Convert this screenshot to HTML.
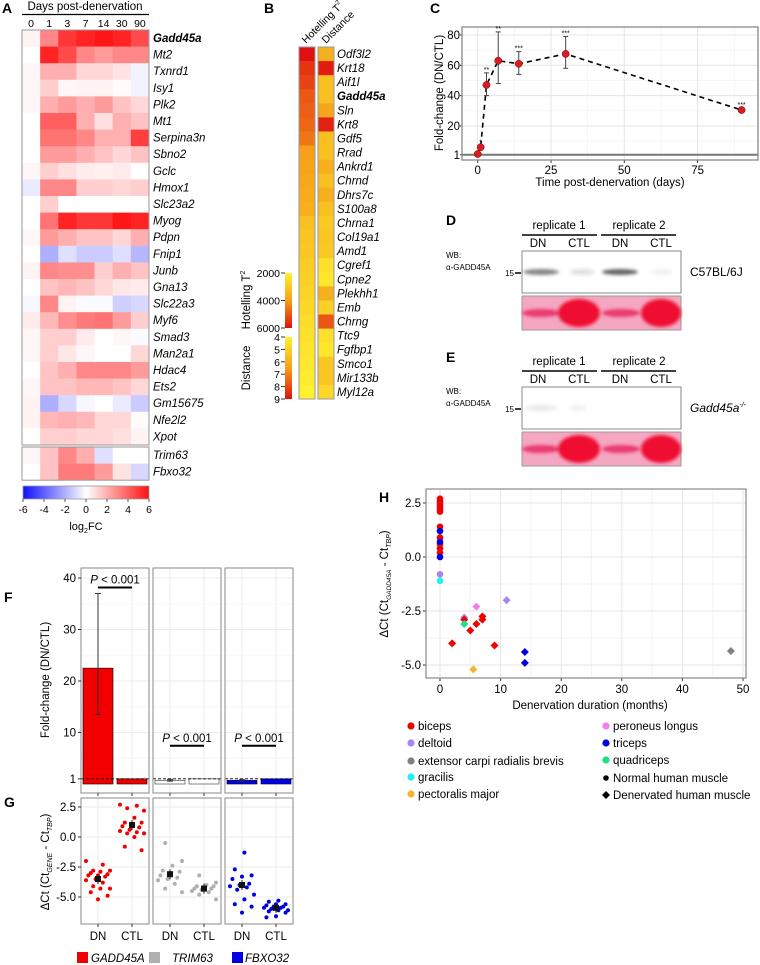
<!DOCTYPE html>
<html><head><meta charset="utf-8"><style>
html,body{margin:0;padding:0;background:#fff;}
svg{display:block;font-family:"Liberation Sans",Arial,sans-serif;}
</style></head><body>
<svg id="fig" width="760" height="965" viewBox="0 0 760 965" xmlns="http://www.w3.org/2000/svg">
<defs>
<linearGradient id="gradA" x1="0" x2="1" y1="0" y2="0"><stop offset="0" stop-color="#1010ff"/><stop offset="0.5" stop-color="#ffffff"/><stop offset="1" stop-color="#ff1010"/></linearGradient>
<linearGradient id="gradB" x1="0" x2="0" y1="0" y2="1"><stop offset="0" stop-color="#fff030"/><stop offset="0.5" stop-color="#f5a018"/><stop offset="1" stop-color="#e01010"/></linearGradient>
<filter id="blur" x="-20%" y="-50%" width="140%" height="200%"><feGaussianBlur stdDeviation="1.5"/></filter>
</defs>
<g id="root"></g>
</svg>
<script>
// ---------- Panel A data ----------
const aDays = ["0","1","3","7","14","30","90"];
const aGenes = ["Gadd45a","Mt2","Txnrd1","Isy1","Plk2","Mt1","Serpina3n","Sbno2","Gclc","Hmox1","Slc23a2","Myog","Pdpn","Fnip1","Junb","Gna13","Slc22a3","Myf6","Smad3","Man2a1","Hdac4","Ets2","Gm15675","Nfe2l2","Xpot"];
const aValues = [
[0.3,3,5,5.5,5.8,5.5,4.5],[0,5.5,4.5,3,2.5,3,3],[0.2,2,2,1,1,0.7,-0.3],[0.2,1.2,0.2,0.3,0.3,0.1,-0.3],
[0.2,2,2.5,2,2.5,1.5,1],[0,4,4,2,0.8,2,1.5],[0,3.5,3.5,3,2,2,4.8],[0,2.5,2.5,2,1.5,1,1.5],
[0.2,1.2,0.8,0.5,0.4,0.5,0],[-0.5,3,3,1.2,1.2,1,1.2],[0,1.2,0,0,0,0,0],[0,3.5,5.5,5,5,5.8,5.5],
[0.2,2.5,2,1.5,1.5,1,2],[0,-2,-0.8,-1.3,-1.3,-0.8,-1.8],[0.3,3,2.8,2.8,1.2,2,1.5],[0,1.5,1.8,1.5,1,0.6,0.5],
[-0.2,3,0.3,-0.1,-0.1,-1.2,-1],[0.5,1.8,2.8,3.3,3.5,2.5,1.2],[0.2,1.2,1.2,0.5,0,0.2,-0.1],[0.2,1.2,0.6,0.2,0,0,1],
[0,1.5,2,3,3,3,2.5],[0.2,1.5,1.5,1.8,1.8,1.5,1],[0.3,-2,-1,-0.2,0,-0.5,-1.3],[0.3,1.8,2,1.8,1,1,0.1],[0,1.2,1.2,1,1,0.8,0.3]];
const aGenes2 = ["Trim63","Fbxo32"];
const aValues2 = [[0.2,1.5,3,2,-0.8,0,0],[0,1.5,3.3,3.3,2.5,0.7,-1]];
const aTicks = [-6,-4,-2,0,2,4,6];
// ---------- Panel B data ----------
const bGenes = ["Odf3l2","Krt18","Aif1l","Gadd45a","Sln","Krt8","Gdf5","Rrad","Ankrd1","Chrnd","Dhrs7c","S100a8","Chrna1","Col19a1","Amd1","Cgref1","Cpne2","Plekhh1","Emb","Chrng","Ttc9","Fgfbp1","Smco1","Mir133b","Myl12a"];
const bHotelling = [6000,5500,5300,5000,4900,4800,4600,4000,3900,3800,3700,3600,3200,3100,3000,2900,2800,2700,2600,2500,2400,2300,2200,2100,2000];
const bDistance = [6,8.8,5.5,5.5,6.3,8.7,5.5,5.5,6,5.5,6,5.5,5.2,5.3,5.2,4.5,4.3,6,5,7.8,4.5,4.3,5.3,5.3,4.8];
const bHotTicks = [2000,4000,6000];
const bDistTicks = [4,5,6,7,8,9];
// ---------- Panel C data ----------
const cDays = [0,1,3,7,14,30,90];
const cFold = [1.5,6,47,63,61,67.5,30.5];
const cErrHi = [2,7,55,82,69,79,32];
const cErrLo = [1,5,40,48,54,58,29];
const cStars = ["","*","**","**","***","***","***"];
const cYTicks = [1,20,40,60,80];
const cXTicks = [0,25,50,75];
// ---------- Panel F data ----------
const fGenes = ["GADD45A","TRIM63","FBXO32"];
const fDN = [22.5,0.7,0.7];
const fCTL = [1,1,1];
const fDNErrHi = [37,0.9,0.85];
const fDNErrLo = [13.5,0.55,0.6];
const fYTicks = [1,10,20,30,40];
// ---------- Panel G data ----------
const gDN = [
[-2.0,-2.3,-2.8,-2.8,-2.9,-3.0,-3.1,-3.2,-3.2,-3.3,-3.5,-3.6,-3.8,-4.1,-4.3,-4.3,-4.6,-4.9,-5.2],
[-0.5,-2.0,-2.4,-2.8,-2.9,-3.0,-3.2,-3.4,-3.5,-3.6,-3.9,-4.3,-4.6],
[-1.3,-2.7,-3.2,-3.3,-3.5,-3.9,-4.0,-4.1,-4.2,-4.4,-4.8,-5.2,-5.6,-5.8,-6.3]];
const gCTL = [
[2.7,2.6,2.4,2.2,1.6,1.2,1.2,1.0,0.9,0.8,0.6,0.5,0.4,0.3,0.3,0.0,-0.8,-1.1],
[-3.2,-3.8,-4.0,-4.1,-4.1,-4.2,-4.3,-4.3,-4.4,-4.5,-4.6,-4.8,-5.2],
[-5.3,-5.4,-5.6,-5.6,-5.7,-5.8,-5.8,-5.9,-5.9,-6.0,-6.1,-6.1,-6.2,-6.3,-6.6,-6.7]];
const gMeanDN = [-3.5,-3.1,-4.0];
const gMeanCTL = [1.0,-4.3,-5.9];
const gYTicks = [2.5,0,-2.5,-5];
// ---------- Panel H data ----------
const hMonths = [0,0,0,0,0,0,0,0,0,0,0,0,0,0,0,0,0, 11,6,4,4,7,7,4,6,5,2,9,14,14,5.5,48];
const hDeltaCt = [2.7,2.6,2.5,2.4,2.3,2.2,2.1,1.4,0.9,0.6,0.4,0.2,1.2,0.7,0.0,-0.8,-1.1, -2.0,-2.3,-2.8,-2.9,-2.75,-2.9,-3.1,-3.1,-3.4,-4.0,-4.1,-4.4,-4.9,-5.2,-4.35];
const hMuscle = ["biceps","biceps","biceps","biceps","biceps","biceps","biceps","biceps","biceps","biceps","biceps","biceps","triceps","triceps","triceps","deltoid","gracilis",
"deltoid","peroneus longus","deltoid","biceps","biceps","biceps","quadriceps","biceps","biceps","biceps","biceps","triceps","triceps","pectoralis major","extensor carpi radialis brevis"];
const hDenervated = [0,0,0,0,0,0,0,0,0,0,0,0,0,0,0,0,0,1,1,1,1,1,1,1,1,1,1,1,1,1,1,1];
const hYTicks = [2.5,0,-2.5,-5];
const hXTicks = [0,10,20,30,40,50];

const NS="http://www.w3.org/2000/svg";
const root=document.getElementById('root');
function mk(tag,attrs,parent,text){const e=document.createElementNS(NS,tag);for(const k in attrs)e.setAttribute(k,attrs[k]);if(text!==undefined)e.textContent=text;(parent||root).appendChild(e);return e;}
function grp(name){const g=mk('g',{});


return g;}

// Panel letters
[["A",2,13],["B",264,13],["C",430,13],["D",446,225],["E",446,362],["F",4,602],["G",4,807],["H",379,502]].forEach(l=>{
const t=mk('text',{x:l[1],y:l[2],'font-size':14,'font-weight':'bold'},root,l[0]);


});

// ===== Panel A =====
(function(){
const g=grp('panel-a-heatmap');
const x0=22,cw=18.14,y0=30,rh=16.6;
const col=v=>{const t=Math.max(-1,Math.min(1,v/6));if(t>=0){const c=Math.round(255*(1-t*0.94));return `rgb(255,${c},${c})`;}const c=Math.round(255*(1+t*0.94));return `rgb(${c},${c},255)`;};
const title=mk('text',{x:85,y:10,'font-size':11.5,'text-anchor':'middle'},g,'Days post-denervation');


mk('line',{x1:22,x2:149,y1:14.5,y2:14.5,stroke:'#000','stroke-width':1.3},g);
aDays.forEach((d,j)=>{const t=mk('text',{x:x0+cw*(j+0.5),y:27,'font-size':10.5,'text-anchor':'middle'},g,d);

});
aValues.forEach((row,i)=>{row.forEach((v,j)=>{const r=mk('rect',{x:x0+cw*j,y:y0+rh*i,width:cw+0.3,height:rh+0.3,fill:col(v)},g);

});
const t=mk('text',{x:153,y:y0+rh*i+12,'font-size':11.5,'font-style':'italic','font-weight':i===0?'bold':'normal'},g,aGenes[i]);

});
mk('rect',{x:x0,y:y0,width:cw*7,height:rh*aGenes.length,fill:'none',stroke:'#999','stroke-width':1},g);
const y2=447;
aValues2.forEach((row,i)=>{row.forEach((v,j)=>{const r=mk('rect',{x:x0+cw*j,y:y2+rh*i,width:cw+0.3,height:rh+0.3,fill:col(v)},g);

});
const t=mk('text',{x:153,y:y2+rh*i+12,'font-size':11.5,'font-style':'italic'},g,aGenes2[i]);

});
mk('rect',{x:x0,y:y2,width:cw*7,height:rh*2,fill:'none',stroke:'#999','stroke-width':1},g);
const cb=mk('rect',{x:23,y:486,width:126,height:13,fill:'url(#gradA)',stroke:'#999','stroke-width':0.8},g);


aTicks.forEach(v=>{const x=23+(v+6)/12*126;mk('line',{x1:x,x2:x,y1:499,y2:502,stroke:'#555'},g);
const t=mk('text',{x:x,y:513,'font-size':10.5,'text-anchor':'middle'},g,String(v));

});
const lt=mk('text',{x:86,y:530,'font-size':11,'text-anchor':'middle'},g);


mk('tspan',{},lt,'log');mk('tspan',{'font-size':7,dy:3},lt,'2');mk('tspan',{dy:-3},lt,'FC');
})();

// ===== Panel B =====
(function(){
const g=grp('panel-b-heatmap');
const y0=47,rh=14.08,xh=299,xd=318,w=16;
const stops=[[255,240,48],[245,160,24],[224,16,16]];
const col=t=>{t=Math.max(0,Math.min(1,t));let a,b,u;if(t<0.5){a=stops[0];b=stops[1];u=t/0.5;}else{a=stops[1];b=stops[2];u=(t-0.5)/0.5;}return `rgb(${a.map((c,k)=>Math.round(c+(b[k]-c)*u)).join(',')})`;};
bGenes.forEach((gn,i)=>{
const r1=mk('rect',{x:xh,y:y0+rh*i,width:w,height:rh+0.3,fill:col((bHotelling[i]-2000)/4000)},g);


const r2=mk('rect',{x:xd,y:y0+rh*i,width:w,height:rh+0.3,fill:col((bDistance[i]-4)/5)},g);


const t=mk('text',{x:337,y:y0+rh*i+11,'font-size':11.5,'font-style':'italic','font-weight':gn==='Gadd45a'?'bold':'normal'},g,gn);


});
mk('rect',{x:xh,y:y0,width:w,height:rh*25,fill:'none',stroke:'#999'},g);
mk('rect',{x:xd,y:y0,width:w,height:rh*25,fill:'none',stroke:'#999'},g);
const h1=mk('text',{transform:'translate(306,44) rotate(-45)','font-size':10.5},g);


mk('tspan',{},h1,'Hotelling T');mk('tspan',{'font-size':6.5,dy:-5},h1,'2');
const h2=mk('text',{transform:'translate(326,44) rotate(-45)','font-size':10.5},g,'Distance');


// colorbars
const c1=mk('rect',{x:285,y:273,width:7,height:55,fill:'url(#gradB)'},g);


bHotTicks.forEach(v=>{const y=273+(v-2000)/4000*55;mk('line',{x1:281,x2:285,y1:y,y2:y,stroke:'#333'},g);
const t=mk('text',{x:280,y:y+4,'font-size':10.5,'text-anchor':'end'},g,String(v));

});
const c2=mk('rect',{x:285,y:337,width:7,height:62,fill:'url(#gradB)'},g);


bDistTicks.forEach(v=>{const y=337+(v-4)/5*62;mk('line',{x1:281,x2:285,y1:y,y2:y,stroke:'#333'},g);
const t=mk('text',{x:280,y:y+4,'font-size':10.5,'text-anchor':'end'},g,String(v));

});
const l1=mk('text',{transform:'translate(250,300) rotate(-90)','font-size':11.5,'text-anchor':'middle'},g);


mk('tspan',{},l1,'Hotelling T');mk('tspan',{'font-size':7,dy:-5},l1,'2');
const l2=mk('text',{transform:'translate(250,368) rotate(-90)','font-size':11.5,'text-anchor':'middle'},g,'Distance');


})();

// ===== Panel C =====
(function(){
const g=grp('panel-c-line-chart');
const L=462,R=758,T=27,B=160;
const xs=d=>477.7+d*2.932, ys=v=>156.3-v*1.517;
mk('rect',{x:L,y:T,width:R-L,height:B-T,fill:'#fff'},g);
[12.5,37.5,62.5,87.5].forEach(d=>mk('line',{x1:xs(d),x2:xs(d),y1:T,y2:B,stroke:'#f0f0f0','stroke-width':0.6},g));
[10,30,50,70].forEach(v=>mk('line',{x1:L,x2:R,y1:ys(v),y2:ys(v),stroke:'#f0f0f0','stroke-width':0.6},g));
cXTicks.forEach(d=>{mk('line',{x1:xs(d),x2:xs(d),y1:T,y2:B,stroke:'#e4e4e4','stroke-width':1},g);
mk('line',{x1:xs(d),x2:xs(d),y1:B,y2:B+3,stroke:'#333'},g);
const t=mk('text',{x:xs(d),y:B+14,'font-size':11.5,'text-anchor':'middle'},g,String(d));

});
cYTicks.forEach(v=>{if(v>1)mk('line',{x1:L,x2:R,y1:ys(v),y2:ys(v),stroke:'#e4e4e4'},g);
mk('line',{x1:L-2,x2:L,y1:ys(v),y2:ys(v),stroke:'#333'},g);
const t=mk('text',{x:L-2,y:ys(v)+4,'font-size':11.5,'text-anchor':'end'},g,String(v));

});
const base=mk('line',{x1:L,x2:R,y1:ys(1),y2:ys(1),stroke:'#777','stroke-width':2},g);


mk('rect',{x:L,y:T,width:R-L,height:B-T,fill:'none',stroke:'#888','stroke-width':1.3},g);
const pts=cDays.map((d,i)=>xs(d)+','+ys(cFold[i])).join(' ');
const pl=mk('polyline',{points:pts,fill:'none',stroke:'#000','stroke-width':1.6,'stroke-dasharray':'5,4'},g);


cDays.forEach((d,i)=>{const x=xs(d);
if(i>=2){mk('line',{x1:x,x2:x,y1:ys(cErrHi[i]),y2:ys(cErrLo[i]),stroke:'#444','stroke-width':1},g);
mk('line',{x1:x-2.5,x2:x+2.5,y1:ys(cErrHi[i]),y2:ys(cErrHi[i]),stroke:'#444'},g);
mk('line',{x1:x-2.5,x2:x+2.5,y1:ys(cErrLo[i]),y2:ys(cErrLo[i]),stroke:'#444'},g);}
const c=mk('circle',{cx:x,cy:ys(cFold[i]),r:3.6,fill:'#d81c24',stroke:'#8a0000','stroke-width':0.5},g);


if(cStars[i]){const t=mk('text',{x:x,y:ys(Math.max(cErrHi[i],cFold[i]))-1,'font-size':7,'text-anchor':'middle'},g,cStars[i]);

}
});
const xt=mk('text',{x:610,y:186,'font-size':11.5,'text-anchor':'middle'},g,'Time post-denervation (days)');


const yt=mk('text',{transform:'translate(443,93) rotate(-90)','font-size':11.5,'text-anchor':'middle'},g,'Fold-change (DN/CTL)');


})();

// ===== Panels D & E (western blots) =====
function blot(name,top,label,italic,bands){
const g=grp(name);
[["replicate 1",559,522,597],["replicate 2",639,601,676]].forEach(r=>{
const t=mk('text',{x:r[1],y:top,'font-size':11.5,'text-anchor':'middle'},g,r[0]);


mk('line',{x1:r[2],x2:r[3],y1:top+6,y2:top+6,stroke:'#000','stroke-width':1.5},g);});
[["DN",538],["CTL",579],["DN",620],["CTL",661]].forEach(l=>{const t=mk('text',{x:l[1],y:top+18,'font-size':11.5,'text-anchor':'middle'},g,l[0]);

});
const bt=top+22;
const box=mk('rect',{x:522,y:bt,width:159,height:42,fill:'#fff',stroke:'#888'},g);


bands.forEach(b=>{mk('ellipse',{cx:b[0],cy:bt+21,rx:b[1],ry:3,fill:'#333','fill-opacity':b[2],filter:'url(#blur)'},g);});
mk('text',{x:446,y:bt+7,'font-size':8},g,'WB:');
mk('text',{x:446,y:bt+19,'font-size':8},g,'α-GADD45A');
mk('text',{x:505,y:bt+25,'font-size':8},g,'15');
mk('line',{x1:515,x2:521,y1:bt+22,y2:bt+22,stroke:'#000','stroke-width':1.5},g);
const pt=bt+45;
const p=mk('rect',{x:522,y:pt,width:159,height:34,fill:'#f5a6c0',stroke:'#999'},g);


[[541,19,4],[621,19,4]].forEach(b=>mk('ellipse',{cx:b[0],cy:pt+17,rx:b[1],ry:b[2],fill:'#ea3a70',filter:'url(#blur)'},g));
[[579,21],[661,20]].forEach(b=>mk('ellipse',{cx:b[0],cy:pt+17,rx:b[1],ry:14,fill:'#f01030',filter:'url(#blur)'},g));
const lt=mk('text',{x:690,y:bt+25,'font-size':12,'font-style':italic?'italic':'normal'},g,label);


if(italic){mk('tspan',{'font-size':7,dy:-5},lt,'-/-');}
}
blot('panel-d-western-blot',229,'C57BL/6J',false,[[541,18,0.6],[582,12,0.15],[620,18,0.75],[661,10,0.08]]);
blot('panel-e-western-blot',365,'Gadd45a',true,[[541,16,0.1],[578,8,0.06]]);

// ===== Panel F =====
(function(){
const g=grp('panel-f-bar-chart');
const boxes=[[81,149],[153,221],[225,293]];
const T=568,B=793;
const ys=v=>784-(v)*5.15;
const colors=["#f20000","#ffffff","#0000f0"];
boxes.forEach((bx,k)=>{
const [L,R]=bx;const xdn=L+17,xct=L+51;
mk('rect',{x:L,y:T,width:R-L,height:B-T,fill:'#fff'},g);
[xdn,xct].forEach(x=>mk('line',{x1:x,x2:x,y1:T,y2:B,stroke:'#ebebeb'},g));
fYTicks.forEach(v=>mk('line',{x1:L,x2:R,y1:ys(v),y2:ys(v),stroke:'#ebebeb'},g));
[5,15,25,35].forEach(v=>mk('line',{x1:L,x2:R,y1:ys(v),y2:ys(v),stroke:'#f5f5f5'},g));
const bd=mk('rect',{x:xdn-15,y:ys(fDN[k]),width:30,height:ys(0)-ys(fDN[k]),fill:k===1?'#fff':colors[k],stroke:k===1?'#333':'#000','stroke-width':0.6},g);


const bc=mk('rect',{x:xct-15,y:ys(fCTL[k]),width:30,height:ys(0)-ys(fCTL[k]),fill:colors[k],stroke:k===1?'#333':'#000','stroke-width':0.6},g);


mk('line',{x1:xdn,x2:xdn,y1:ys(fDNErrHi[k]),y2:ys(fDNErrLo[k]),stroke:'#333'},g);
mk('line',{x1:xdn-3,x2:xdn+3,y1:ys(fDNErrHi[k]),y2:ys(fDNErrHi[k]),stroke:'#333'},g);
mk('line',{x1:xdn-3,x2:xdn+3,y1:ys(fDNErrLo[k]),y2:ys(fDNErrLo[k]),stroke:'#333'},g);
mk('line',{x1:L,x2:R,y1:ys(1),y2:ys(1),stroke:'#000','stroke-dasharray':'3,2','stroke-width':0.9},g);
mk('rect',{x:L,y:T,width:R-L,height:B-T,fill:'none',stroke:'#888'},g);
[xdn,xct].forEach(x=>mk('line',{x1:x,x2:x,y1:B,y2:B+3,stroke:'#333'},g));
const py=k===0?Math.max(ys(fDNErrHi[k]),T+22)-4:ys(8)+5;
const pt=mk('text',{x:(xdn+xct)/2,y:py-6,'font-size':11.5,'text-anchor':'middle'},g);


mk('tspan',{'font-style':'italic'},pt,'P');mk('tspan',{},pt,' < 0.001');
mk('line',{x1:xdn,x2:xct,y1:py-2,y2:py-2,stroke:'#000','stroke-width':2},g);
});
fYTicks.forEach(v=>{mk('line',{x1:78,x2:81,y1:ys(v),y2:ys(v),stroke:'#333'},g);
const t=mk('text',{x:76,y:ys(v)+4,'font-size':11.5,'text-anchor':'end'},g,String(v));

});
const yt=mk('text',{transform:'translate(49,680) rotate(-90)','font-size':11.5,'text-anchor':'middle'},g,'Fold-change (DN/CTL)');


})();

// ===== Panel G =====
(function(){
const g=grp('panel-g-dot-plot');
const boxes=[[81,149],[153,221],[225,293]];
const T=798,B=924;
const ys=v=>837-v*12;
const colors=["#f00000","#b0b0b0","#0000e0"];
boxes.forEach((bx,k)=>{
const [L,R]=bx;const xdn=L+17,xct=L+51;
mk('rect',{x:L,y:T,width:R-L,height:B-T,fill:'#fff'},g);
[xdn,xct].forEach(x=>mk('line',{x1:x,x2:x,y1:T,y2:B,stroke:'#ebebeb'},g));
gYTicks.forEach(v=>mk('line',{x1:L,x2:R,y1:ys(v),y2:ys(v),stroke:'#ebebeb'},g));
[[gDN[k],xdn],[gCTL[k],xct]].forEach(([arr,xc])=>{
arr.forEach((v,i)=>{const off=(((i*7+k*3)%11)-5)*2.4;
const c=mk('circle',{cx:xc+off,cy:ys(v),r:2,fill:colors[k]},g);

});
});
[[gMeanDN[k],xdn],[gMeanCTL[k],xct]].forEach(([m,xc])=>{const r=mk('rect',{x:xc-3,y:ys(m)-3,width:6,height:6,fill:'#111'},g);


mk('line',{x1:xc,x2:xc,y1:ys(m)-5,y2:ys(m)+5,stroke:'#111'},g);});
mk('rect',{x:L,y:T,width:R-L,height:B-T,fill:'none',stroke:'#888'},g);
[["DN",xdn],["CTL",xct]].forEach(l=>{mk('line',{x1:l[1],x2:l[1],y1:B,y2:B+3,stroke:'#333'},g);
const t=mk('text',{x:l[1],y:B+16,'font-size':11.5,'text-anchor':'middle'},g,l[0]);

});
});
gYTicks.forEach(v=>{mk('line',{x1:78,x2:81,y1:ys(v),y2:ys(v),stroke:'#333'},g);
const t=mk('text',{x:76,y:ys(v)+4,'font-size':11.5,'text-anchor':'end'},g,v.toFixed(1));

});
const yt=mk('text',{transform:'translate(49,862) rotate(-90)','font-size':11.5,'text-anchor':'middle'},g);


mk('tspan',{},yt,'ΔCt (Ct');mk('tspan',{'font-size':7,dy:3,'font-style':'italic'},yt,'GENE');mk('tspan',{dy:-3},yt,' - Ct');mk('tspan',{'font-size':7,dy:3,'font-style':'italic'},yt,'TBP');mk('tspan',{dy:-3},yt,')');
[["GADD45A",77,91,"#f00000"],["TRIM63",149,172,"#b0b0b0"],["FBXO32",232,245,"#0000e0"]].forEach(l=>{
const s=mk('rect',{x:l[1],y:952,width:11,height:11,fill:l[3]},g);


const t=mk('text',{x:l[2],y:962,'font-size':11.5,'font-style':'italic'},g,l[0]);

});
})();

// ===== Panel H =====
(function(){
const g=grp('panel-h-scatter');
const L=426,R=746,T=489,B=678;
const xs=m=>440+m*6.06, ys=v=>557-v*21.6;
const colorMap={"biceps":"#f00000","deltoid":"#a386f0","extensor carpi radialis brevis":"#808080","gracilis":"#20f0f0","pectoralis major":"#f5b52a","peroneus longus":"#f07ef0","triceps":"#0000e0","quadriceps":"#20e080"};
mk('rect',{x:L,y:T,width:R-L,height:B-T,fill:'#fff'},g);
[5,15,25,35,45].forEach(m=>mk('line',{x1:xs(m),x2:xs(m),y1:T,y2:B,stroke:'#f3f3f3'},g));
[1.25,-1.25,-3.75].forEach(v=>mk('line',{x1:L,x2:R,y1:ys(v),y2:ys(v),stroke:'#f3f3f3'},g));
hXTicks.forEach(m=>{mk('line',{x1:xs(m),x2:xs(m),y1:T,y2:B,stroke:'#e6e6e6'},g);
mk('line',{x1:xs(m),x2:xs(m),y1:B,y2:B+3,stroke:'#333'},g);
const t=mk('text',{x:xs(m),y:B+15,'font-size':11.5,'text-anchor':'middle'},g,String(m));

});
hYTicks.forEach(v=>{mk('line',{x1:L,x2:R,y1:ys(v),y2:ys(v),stroke:'#e6e6e6'},g);
mk('line',{x1:L-3,x2:L,y1:ys(v),y2:ys(v),stroke:'#333'},g);
const t=mk('text',{x:L-5,y:ys(v)+4,'font-size':11.5,'text-anchor':'end'},g,v.toFixed(1));

});
mk('rect',{x:L,y:T,width:R-L,height:B-T,fill:'none',stroke:'#888','stroke-width':1.2},g);
hMonths.forEach((m,i)=>{const x=xs(m),y=ys(hDeltaCt[i]),c=colorMap[hMuscle[i]];let e;
if(hDenervated[i]){e=mk('polygon',{points:`${x},${y-4} ${x+4},${y} ${x},${y+4} ${x-4},${y}`,fill:c},g);}
else{e=mk('circle',{cx:x,cy:y,r:3.3,fill:c},g);}

});
const xt=mk('text',{x:590,y:709,'font-size':11.5,'text-anchor':'middle'},g,'Denervation duration (months)');


const yt=mk('text',{transform:'translate(388,584) rotate(-90)','font-size':11.5,'text-anchor':'middle'},g);


mk('tspan',{},yt,'ΔCt (Ct');mk('tspan',{'font-size':6.5,dy:3,'font-style':'italic'},yt,'GADD45A');mk('tspan',{dy:-3},yt,' - Ct');mk('tspan',{'font-size':7,dy:3,'font-style':'italic'},yt,'TBP');mk('tspan',{dy:-3},yt,')');
const leg=[["biceps",411,726],["deltoid",411,743],["extensor carpi radialis brevis",411,761],["gracilis",411,777],["pectoralis major",411,794],["peroneus longus",606,726],["triceps",606,743],["quadriceps",606,760]];
leg.forEach(l=>{mk('circle',{cx:l[1],cy:l[2],r:3.6,fill:colorMap[l[0]]},g);
const t=mk('text',{x:l[1]+7,y:l[2]+4,'font-size':11.5},g,l[0]);

});
mk('circle',{cx:606,cy:778,r:2.8,fill:'#000'},g);
const t1=mk('text',{x:613,y:782,'font-size':11.5},g,'Normal human muscle');


mk('polygon',{points:'606,791 610,795 606,799 602,795',fill:'#000'},g);
const t2=mk('text',{x:613,y:799,'font-size':11.5},g,'Denervated human muscle');


})();
</script>
</body></html>
